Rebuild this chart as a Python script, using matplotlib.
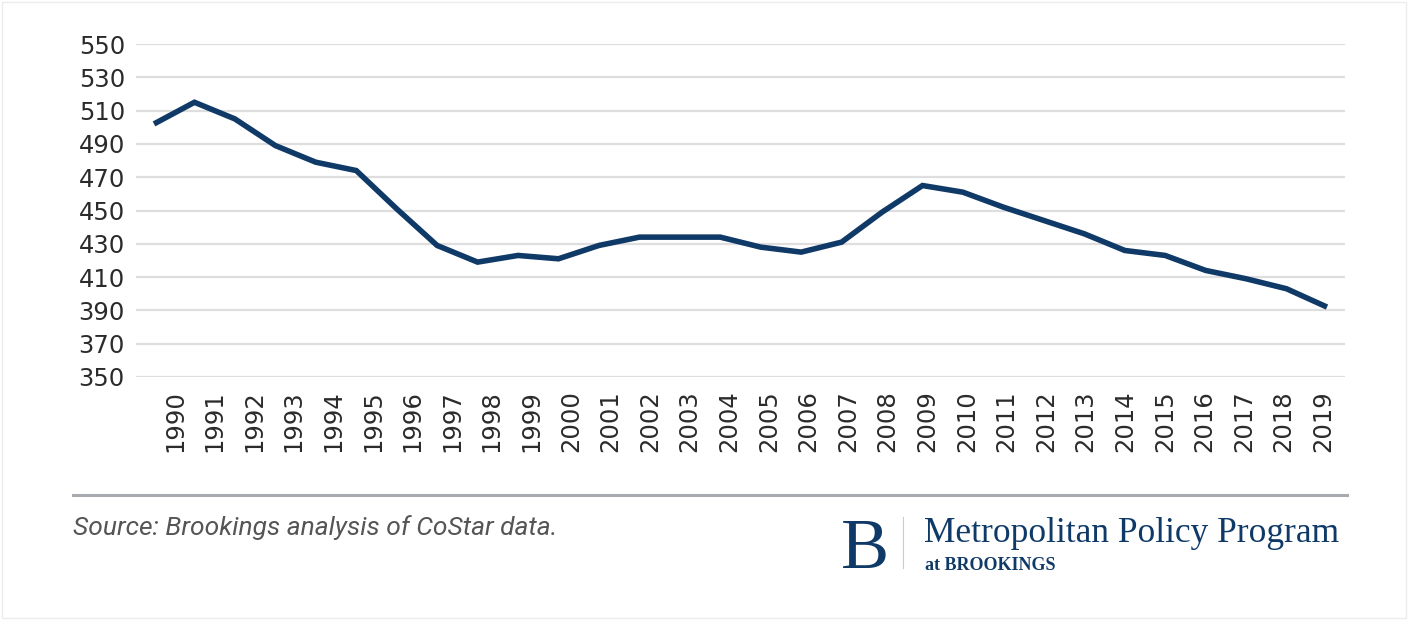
import matplotlib.pyplot as plt
from matplotlib.patches import Rectangle
from matplotlib.lines import Line2D

# office rent data
years = list(range(1990, 2020))
values = [502, 515, 505, 489, 479, 474, 451, 429, 419, 423,
          421, 429, 434, 434, 434, 428, 425, 431, 449, 465,
          461, 452, 444, 436, 426, 423, 414, 409, 403, 392]
y_ticks = list(range(350, 551, 20))

navy = '#0f3a68'
serif = ['Liberation Serif', 'DejaVu Serif']
plt.rcParams['font.family'] = ['DejaVu Sans']

fig = plt.figure(figsize=(14.09, 6.2), dpi=100)
ax = fig.add_axes([136 / 1409, 1 - 377 / 620, 1209 / 1409, 333 / 620])

ax.plot(years, values, color=navy, lw=4, solid_joinstyle='miter', solid_capstyle='butt', zorder=3)

ax.set_ylim(350, 550)
ax.set_xlim(1989.555, 2019.445)
ax.set_yticks(y_ticks)
ax.set_xticks([])
ax.tick_params(axis='y', length=0, labelsize=17.5, labelcolor='#2b2b2b', pad=8)
ax.grid(axis='y', color='#dedede', lw=1.6)
for s in ax.spines.values():
    s.set_visible(False)

# year labels sit on their own slightly compressed scale (as in the original)
lab = ax.twiny()
lab.xaxis.set_ticks_position('bottom')
lab.set_xlim(1989.015, 2019.55)
lab.set_xticks(years)
lab.set_xticklabels([str(y) for y in years], rotation=90)
lab.tick_params(axis='x', length=0, labelsize=17.5, labelcolor='#2b2b2b', pad=9.5)
for s in lab.spines.values():
    s.set_visible(False)

# footer
fig.add_artist(Line2D([73 / 1409, 1347 / 1409], [1 - 495 / 620] * 2, color='#a7abb0', lw=2.2))
fig.text(73 / 1409, 1 - 528 / 620, 'Source: Brookings analysis of CoStar data.', style='italic',
         family=['Roboto', 'DejaVu Sans'], fontsize=19, color='#555555', va='center', ha='left')

fig.text(865 / 1409, 1 - 568 / 620, 'B', family=serif, fontsize=52,
         color=navy, va='baseline', ha='center')
fig.add_artist(Line2D([903 / 1409] * 2, [1 - 517 / 620, 1 - 568 / 620], color='#cccccc', lw=0.8))
fig.text(924 / 1409, 1 - 542 / 620, 'Metropolitan Policy Program', family=serif,
         fontsize=25.5, color=navy, va='baseline', ha='left')
fig.text(925 / 1409, 1 - 570 / 620, 'at BROOKINGS', family=serif, fontweight='bold',
         fontsize=13, color=navy, va='baseline', ha='left')

fig.add_artist(Rectangle((2 / 1409, 2 / 620), 1404 / 1409, 616 / 620, fill=False,
                         edgecolor='#ececec', lw=1, transform=fig.transFigure))

fig.savefig('out.png', dpi=100)
